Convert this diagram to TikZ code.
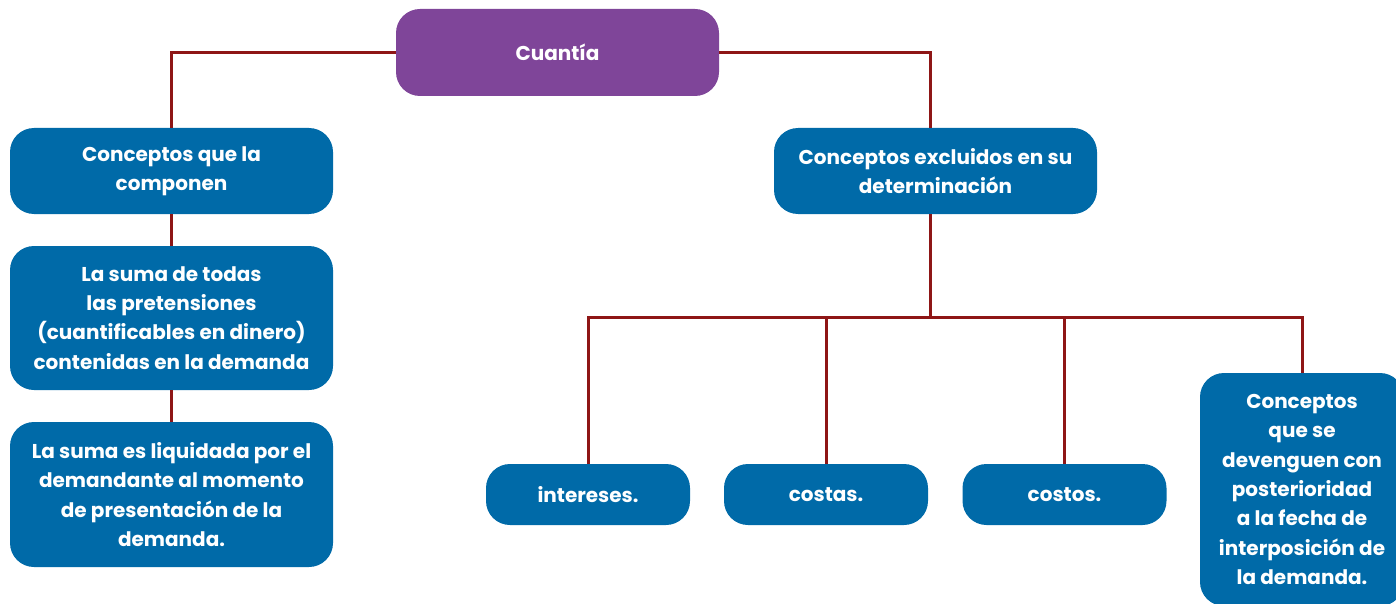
\documentclass[tikz,border=0pt]{standalone}
\usepackage{fontspec}
\setmainfont{Poppins}
\definecolor{boxblue}{HTML}{006AA8}
\definecolor{rootpurple}{HTML}{7F4599}
\definecolor{linkred}{HTML}{8E1616}

\begin{document}
\begin{tikzpicture}[x=1pt,y=-1pt,
  box/.style={fill=boxblue,draw=none,rounded corners=24pt,text=white,align=center,
    font=\bfseries\fontsize{20}{29.3}\selectfont,inner sep=0pt},
  root/.style={box,fill=rootpurple},
  link/.style={draw=linkred,line width=3pt},
]
%%
\clip (0,0) rectangle (1396,604);
\node (root) at (557.5,52.5) [root,minimum width=323pt,minimum height=87pt] {Cuant\'ia};
\node (comp) at (171.5,171) [box,minimum width=323pt,minimum height=86pt] {Conceptos que la\\componen};
\node (sum) at (171.5,318) [box,minimum width=323pt,minimum height=144pt] {La suma de todas\\las pretensiones\\(cuantificables en dinero)\\contenidas en la demanda};
\node (liq) at (171.5,494.5) [box,minimum width=323pt,minimum height=145pt] {La suma es liquidada por el\\demandante al momento\\de presentaci\'on de la\\demanda.};
\node (excl) at (935.5,171) [box,minimum width=323pt,minimum height=86pt] {Conceptos excluidos en su\\determinaci\'on};
\node (int) at (588,494.5) [box,minimum width=204pt,minimum height=61pt] {intereses.};
\node (cas) at (826,494.5) [box,minimum width=204pt,minimum height=61pt] {costas.};
\node (cos) at (1064.5,494.5) [box,minimum width=204pt,minimum height=61pt] {costos.};
\node (late) at (1302,489.5) [box,minimum width=204pt,minimum height=233pt] {Conceptos\\que se\\devenguen con\\posterioridad\\a la fecha de\\interposici\'on de\\la demanda.};
\coordinate (hub) at (930,317);
%
\draw [link] (root.west) -| (comp.north);
\draw [link] (root.east) -| (hub |- excl.north);
\draw [link] (comp.south) -- (sum.north);
\draw [link] (sum.south) -- (liq.north);
\draw [link] (hub |- excl.south) -- (hub);
\draw [link] (int.north) |- (hub) -| (late.north);
\draw [link] (cas.north) -- (cas.north |- hub);
\draw [link] (cos.north) -- (cos.north |- hub);
%
\end{tikzpicture}
\end{document}
